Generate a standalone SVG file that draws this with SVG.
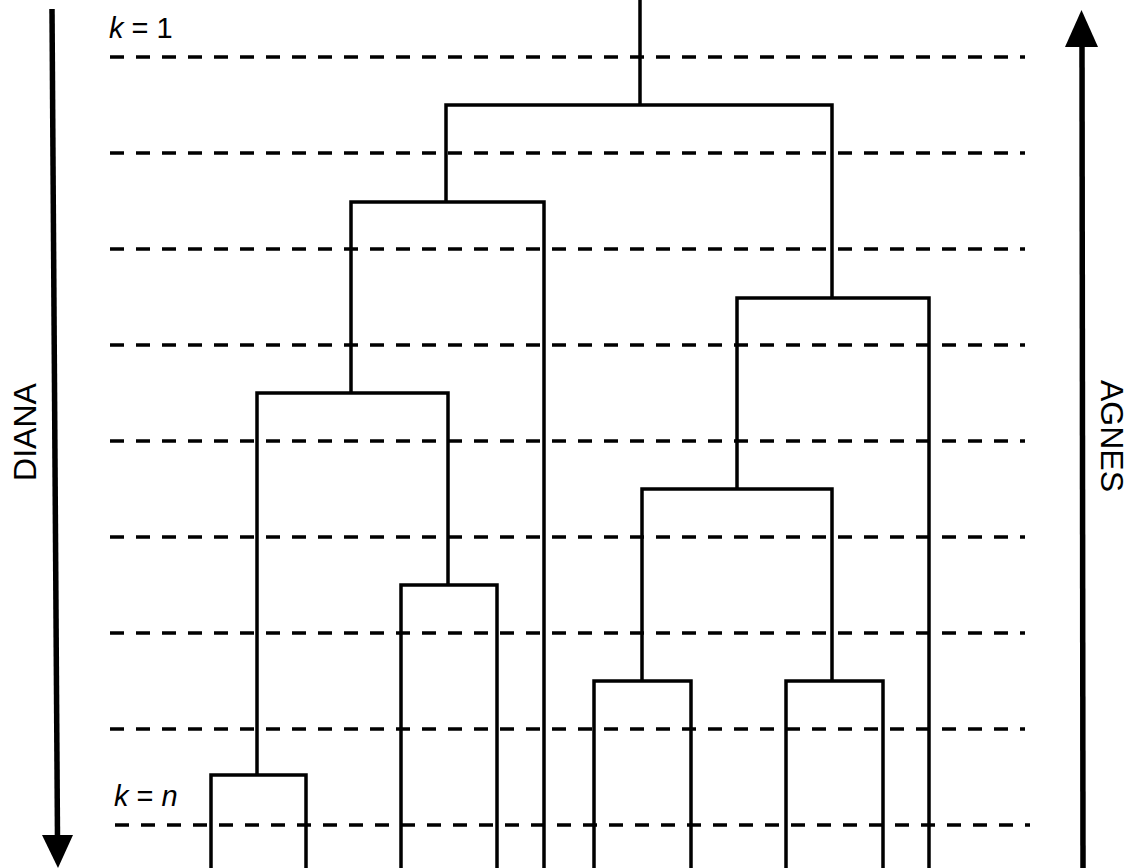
<svg xmlns="http://www.w3.org/2000/svg" width="1136" height="868" viewBox="0 0 1136 868">
<style>
.tree{fill:none;stroke:#000;stroke-width:3.5;stroke-linejoin:miter;stroke-linecap:butt}
.dash{fill:none;stroke:#000;stroke-width:3.5;stroke-dasharray:14 12}
.axis{fill:none;stroke:#000;stroke-width:5.5}
.lbl{font-family:"Liberation Sans",Arial,sans-serif;fill:#000}
.k{font-size:29px}
.side{font-size:32px}
</style>
<rect width="1136" height="868" fill="#fff"/>
<g id="levels">
<line class="dash" x1="110" y1="57" x2="1025" y2="57"/>
<line class="dash" x1="110" y1="153" x2="1025" y2="153"/>
<line class="dash" x1="110" y1="249" x2="1025" y2="249"/>
<line class="dash" x1="110" y1="345" x2="1025" y2="345"/>
<line class="dash" x1="110" y1="441" x2="1025" y2="441"/>
<line class="dash" x1="110" y1="537" x2="1025" y2="537"/>
<line class="dash" x1="110" y1="633" x2="1025" y2="633"/>
<line class="dash" x1="110" y1="729" x2="1025" y2="729"/>
<line class="dash" x1="115" y1="825" x2="1030" y2="825"/>
</g>
<g id="connectors">
<path class="tree" d="M640 0V105"/>
<path class="tree" d="M446 202V105H832V298"/>
<path class="tree" d="M351 393V202H544V868"/>
<path class="tree" d="M257 775V393H448V585"/>
<path class="tree" d="M401 868V585H497V868"/>
<path class="tree" d="M211 868V775H306V868"/>
<path class="tree" d="M737 489V298H929V868"/>
<path class="tree" d="M642 681V489H832V681"/>
<path class="tree" d="M594 868V681H691V868"/>
<path class="tree" d="M786 868V681H883V868"/>
</g>
<g id="diana">
<line class="axis" x1="52" y1="9" x2="57.5" y2="840"/>
<polygon points="42,835 73,835 58,868" fill="#000"/>
<text class="lbl side" text-anchor="middle" transform="translate(36,432) rotate(-90)">DIANA</text>
</g>
<g id="agnes">
<line class="axis" x1="1082" y1="40" x2="1083" y2="868"/>
<polygon points="1065,47 1098,47 1081.5,10" fill="#000"/>
<text class="lbl side" text-anchor="middle" transform="translate(1101,436) rotate(90)">AGNES</text>
</g>
<g id="k1"><text class="lbl k" x="109" y="38"><tspan font-style="italic">k</tspan> = 1</text></g>
<g id="kn"><text class="lbl k" x="114" y="806"><tspan font-style="italic">k</tspan> = <tspan font-style="italic">n</tspan></text></g>
</svg>
